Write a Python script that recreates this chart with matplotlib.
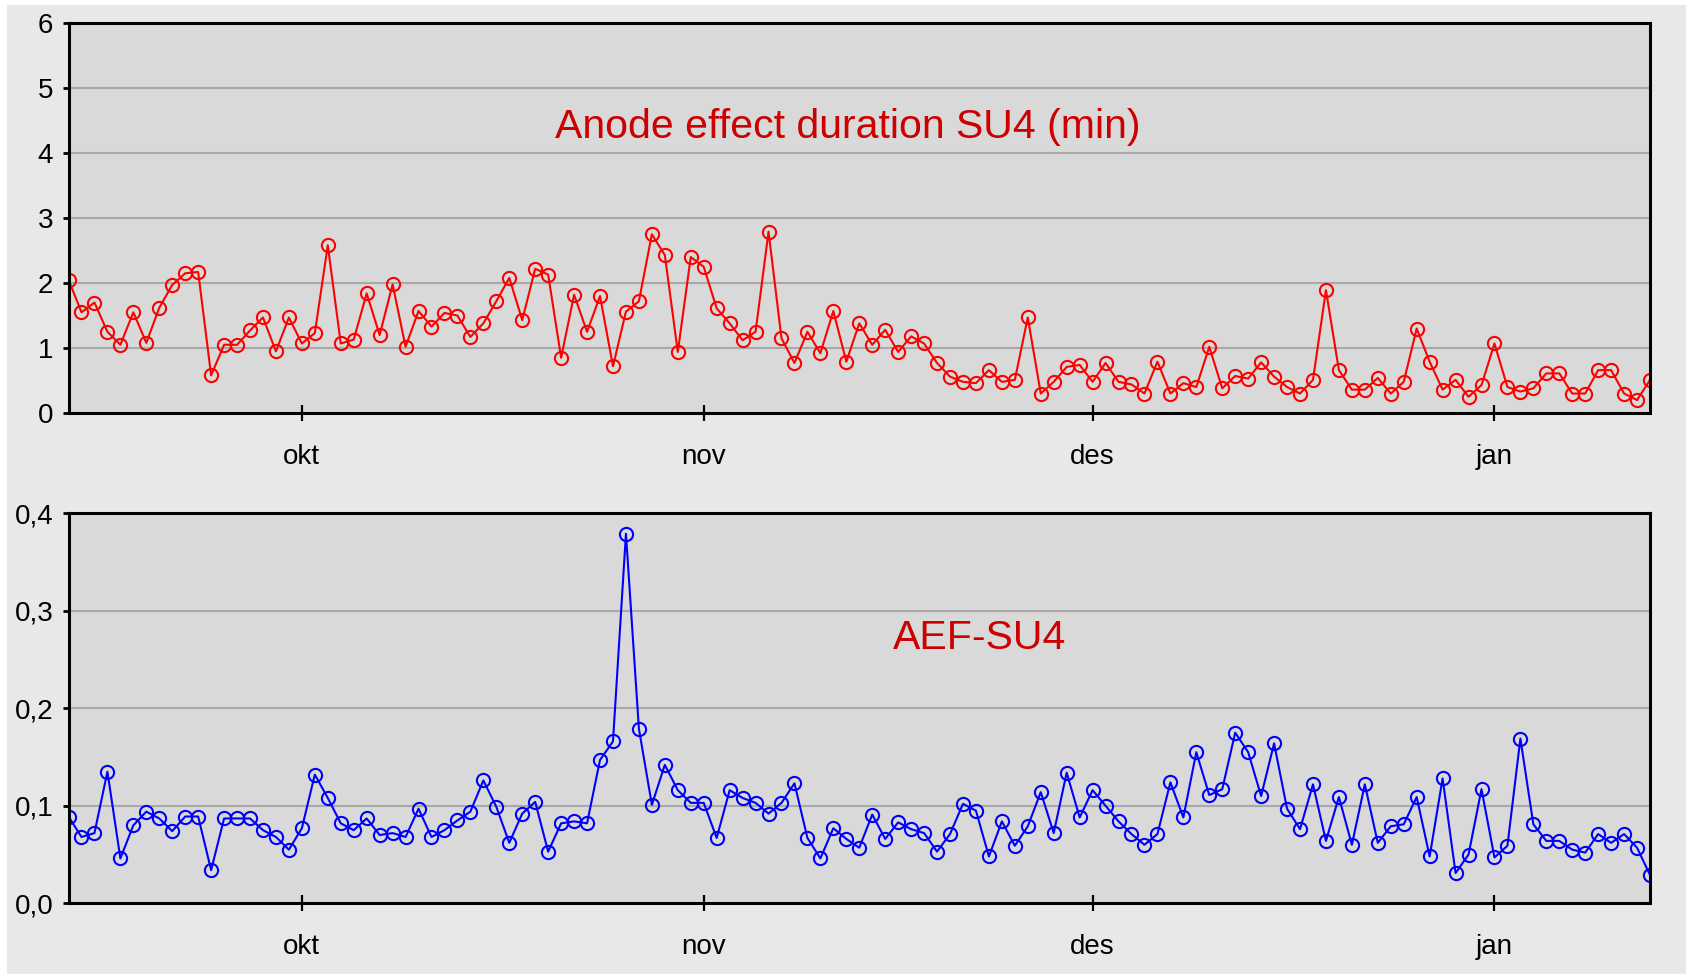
import numpy as np
import pandas as pd
import matplotlib
matplotlib.use("Agg")
import matplotlib.pyplot as plt
from matplotlib.patches import Rectangle

plt.rcParams['font.family'] = ["Liberation Sans", "DejaVu Sans"]

# daily values, 13 Sep -> 13 Jan
dates = pd.date_range("2007-09-13", periods=123, freq="D")

anode_duration = [
    2.05, 1.55, 1.70, 1.25, 1.05, 1.55, 1.08, 1.62, 1.97, 2.15,
    2.17, 0.58, 1.05, 1.05, 1.27, 1.47, 0.95, 1.47, 1.07, 1.23,
    2.58, 1.07, 1.13, 1.84, 1.20, 1.98, 1.02, 1.57, 1.33, 1.54,
    1.50, 1.17, 1.38, 1.72, 2.08, 1.43, 2.22, 2.13, 0.85, 1.82,
    1.25, 1.80, 0.72, 1.56, 1.72, 2.75, 2.43, 0.94, 2.40, 2.25,
    1.61, 1.38, 1.12, 1.25, 2.79, 1.15, 0.77, 1.25, 0.92, 1.57,
    0.79, 1.38, 1.05, 1.28, 0.94, 1.18, 1.07, 0.77, 0.56, 0.48,
    0.46, 0.66, 0.48, 0.51, 1.47, 0.30, 0.48, 0.71, 0.74, 0.48,
    0.77, 0.48, 0.44, 0.30, 0.79, 0.30, 0.46, 0.40, 1.02, 0.38,
    0.57, 0.53, 0.78, 0.56, 0.40, 0.30, 0.51, 1.89, 0.66, 0.36,
    0.36, 0.54, 0.30, 0.48, 1.30, 0.79, 0.36, 0.51, 0.25, 0.43,
    1.07, 0.40, 0.33, 0.38, 0.61, 0.61, 0.30, 0.30, 0.66, 0.66,
    0.30, 0.20, 0.51,
]

aef = [
    0.089, 0.068, 0.072, 0.135, 0.046, 0.080, 0.094, 0.087, 0.074, 0.089,
    0.089, 0.034, 0.087, 0.087, 0.087, 0.075, 0.068, 0.055, 0.077, 0.132,
    0.108, 0.082, 0.075, 0.087, 0.070, 0.072, 0.068, 0.097, 0.068, 0.075,
    0.085, 0.094, 0.126, 0.099, 0.062, 0.092, 0.104, 0.053, 0.082, 0.084,
    0.082, 0.147, 0.166, 0.379, 0.179, 0.101, 0.142, 0.116, 0.103, 0.103,
    0.067, 0.116, 0.108, 0.103, 0.092, 0.103, 0.123, 0.067, 0.046, 0.077,
    0.066, 0.057, 0.091, 0.066, 0.083, 0.076, 0.072, 0.053, 0.071, 0.102,
    0.095, 0.048, 0.084, 0.059, 0.079, 0.114, 0.072, 0.134, 0.088, 0.116,
    0.100, 0.084, 0.071, 0.060, 0.071, 0.124, 0.088, 0.155, 0.111, 0.117,
    0.175, 0.155, 0.110, 0.164, 0.097, 0.076, 0.122, 0.064, 0.109, 0.060,
    0.122, 0.062, 0.079, 0.081, 0.109, 0.048, 0.128, 0.031, 0.050, 0.117,
    0.047, 0.059, 0.169, 0.081, 0.064, 0.064, 0.055, 0.052, 0.071, 0.062,
    0.071, 0.057, 0.029,
]

month_ticks = pd.to_datetime(["2007-10-01", "2007-11-01", "2007-12-01", "2008-01-01"])
month_labels = ["okt", "nov", "des", "jan"]

top_yticks = [0, 1, 2, 3, 4, 5, 6]
bot_yticks = [0.0, 0.1, 0.2, 0.3, 0.4]


def style_axes(ax, yticks, ylabels):
    ax.set_facecolor("#d9d9d9")
    ax.set_xlim(dates[0], dates[-1])
    ax.set_ylim(yticks[0], yticks[-1])
    ax.set_yticks(yticks)
    ax.set_yticklabels(ylabels)
    ax.set_xticks(month_ticks)
    ax.set_xticklabels(month_labels)
    for y in yticks[1:-1]:
        ax.axhline(y, color="#a9a9a9", lw=1.5, zorder=1)
    for sp in ax.spines.values():
        sp.set_linewidth(2.2)
        sp.set_color("black")
        sp.set_zorder(5)
    ax.tick_params(axis="y", direction="out", length=4, width=2, pad=7,
                   labelsize=20)
    ax.tick_params(axis="x", direction="inout", length=12, width=1.6, pad=16,
                   labelsize=20)


fig = plt.figure(figsize=(16.88, 9.76), dpi=100, facecolor="white")
fig.patches.append(Rectangle((7 / 1688, 2 / 976), 1679 / 1688, 969 / 976,
                             transform=fig.transFigure, facecolor="#e8e8e8",
                             edgecolor="none", zorder=-10))

ax1 = fig.add_axes([0.0406, 0.5768, 0.9369, 0.3996])
ax2 = fig.add_axes([0.0406, 0.0745, 0.9369, 0.3996])

ax1.plot(dates, anode_duration, color="#ff0000", lw=1.5, marker="o",
         ms=9.5, mfc="none", mec="#ff0000", mew=1.5, zorder=3)
style_axes(ax1, top_yticks, [str(t) for t in top_yticks])
ax1.text(0.493, 0.706, "Anode effect duration SU4 (min)", transform=ax1.transAxes,
         ha="center", va="baseline", fontsize=29.5, color="#cc0000")

ax2.plot(dates, aef, color="#0000ff", lw=1.5, marker="o",
         ms=9.5, mfc="none", mec="#0000ff", mew=1.5, zorder=3)
style_axes(ax2, bot_yticks, [f"{t:.1f}".replace(".", ",") for t in bot_yticks])
ax2.text(0.576, 0.653, "AEF-SU4", transform=ax2.transAxes,
         ha="center", va="baseline", fontsize=29.5, color="#cc0000")

fig.savefig("out.png", dpi=100, facecolor="white")
